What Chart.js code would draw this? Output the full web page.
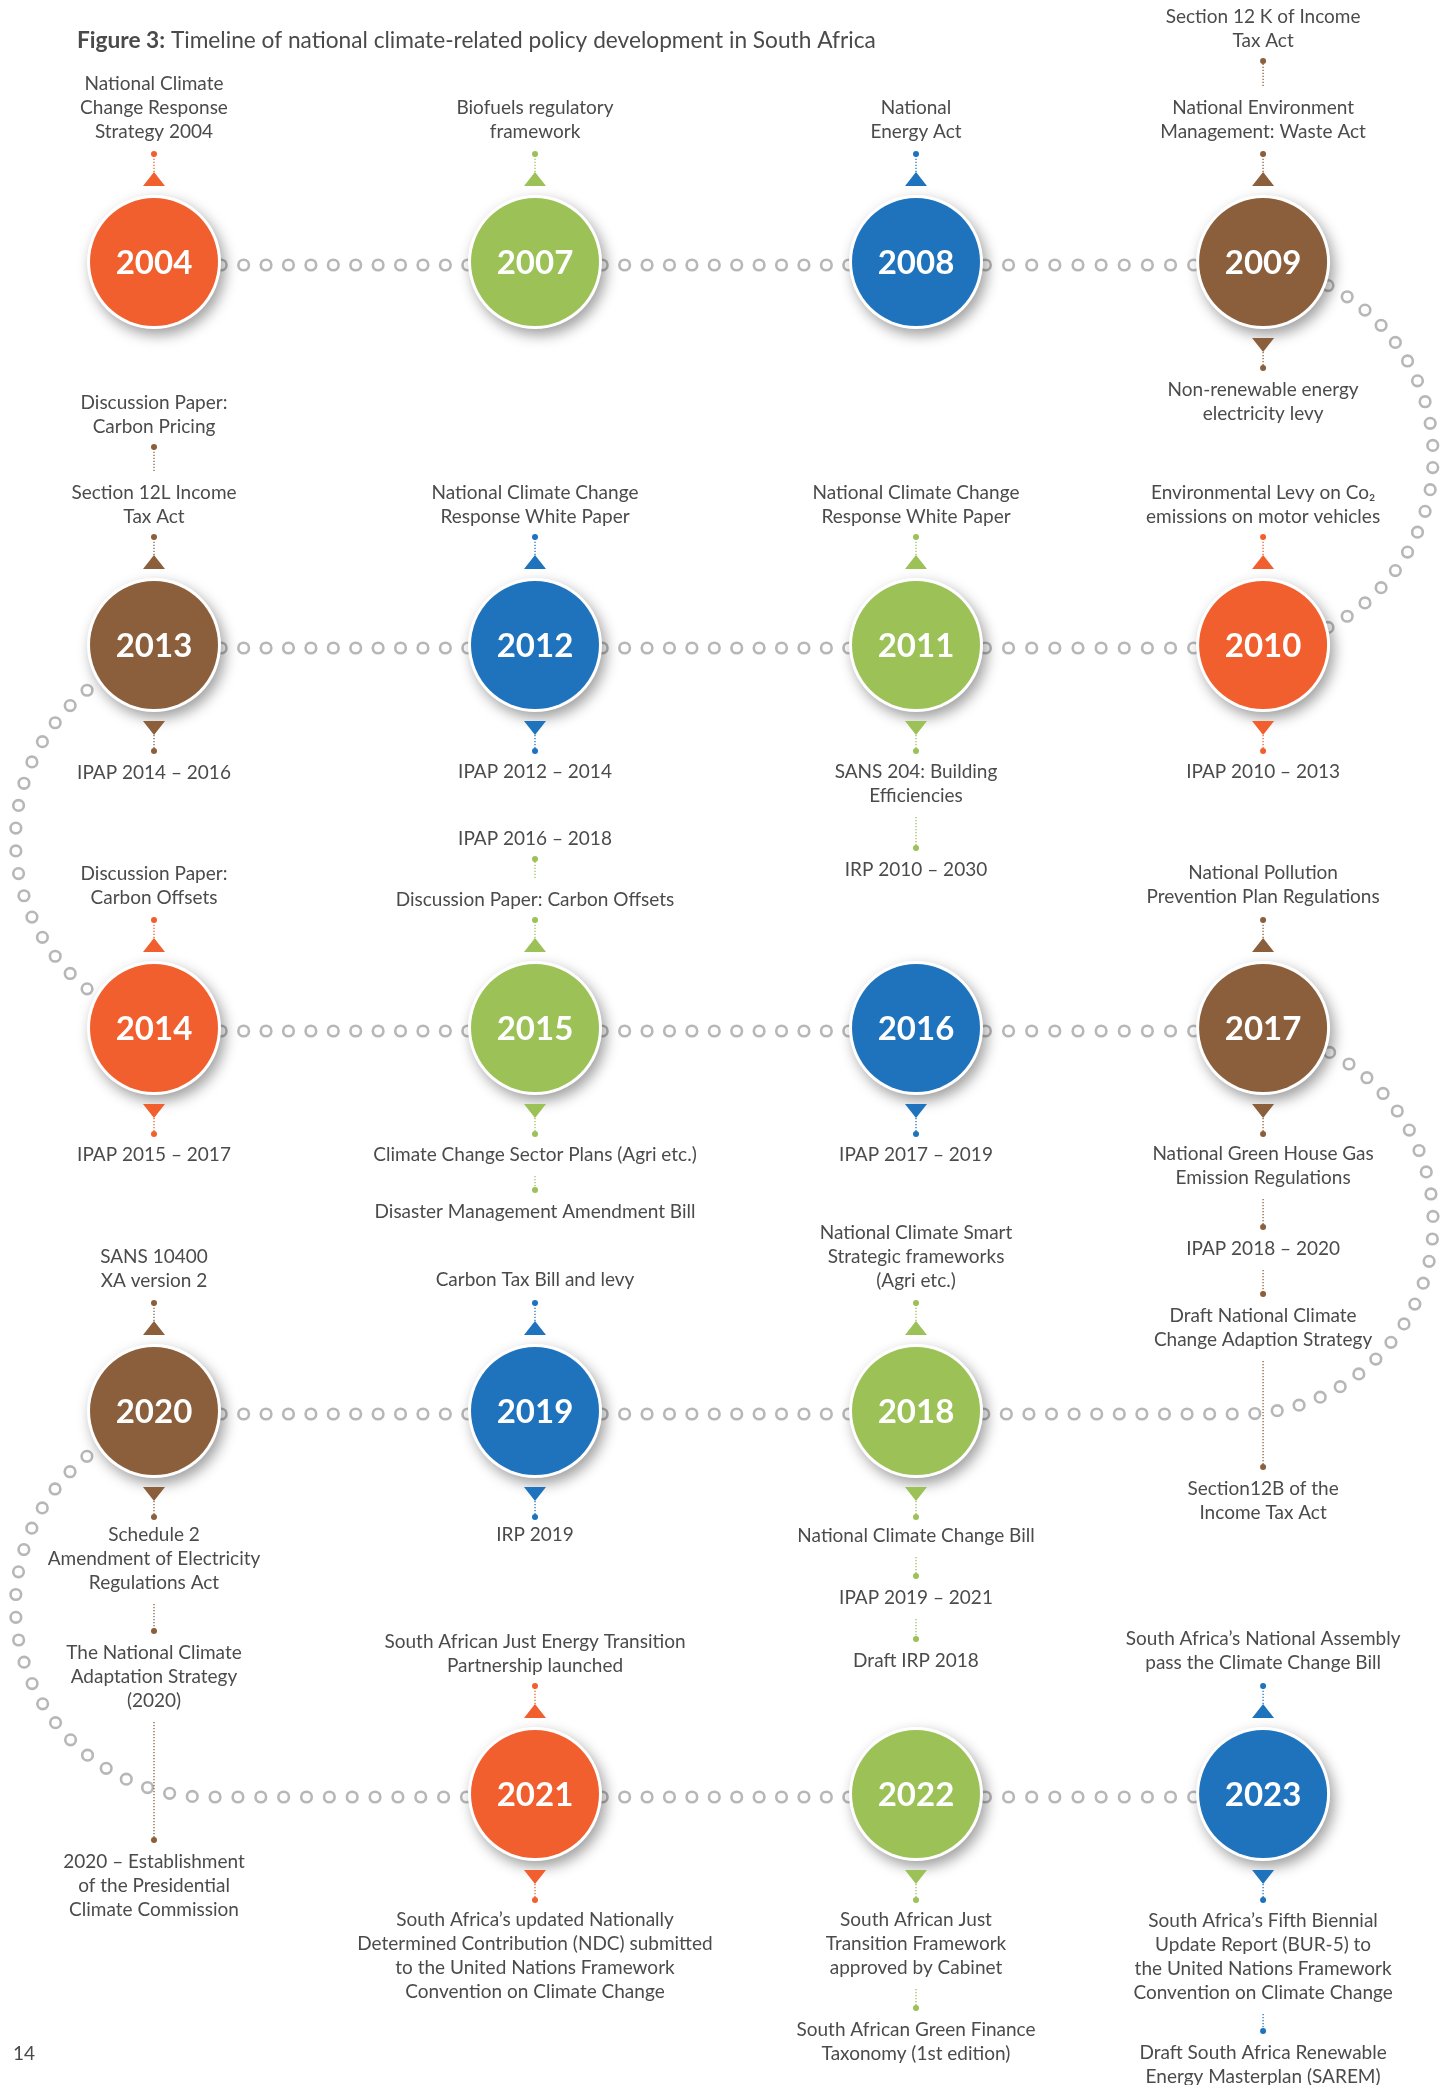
<!DOCTYPE html>
<html>
<head>
<meta charset="utf-8">
<script src="https://cdn.jsdelivr.net/npm/chart.js@4.4.1/dist/chart.umd.min.js"></script>
<style>
  html, body { margin: 0; padding: 0; background: #ffffff; }
  #wrap { position: relative; width: 1452px; height: 2085px; }
  canvas { display: block; }
</style>
</head>
<body>
<div id="wrap"><canvas id="c" width="1452" height="2085"></canvas></div>
<script>
// ================= DATA =================
const titleBold = "Figure 3:";
const titleText = " Timeline of national climate-related policy development in South Africa";
const pageNumber = "14";

const years = [2004, 2007, 2008, 2009, 2010, 2011, 2012, 2013, 2014, 2015, 2016, 2017, 2018, 2019, 2020, 2021, 2022, 2023];

// events shown above each year's circle (nearest first), each event = list of text lines
const aboveLabels = [
  [["National Climate", "Change Response", "Strategy 2004"]],
  [["Biofuels regulatory", "framework"]],
  [["National", "Energy Act"]],
  [["National Environment", "Management: Waste Act"], ["Section 12 K of Income", "Tax Act"]],
  [["Environmental Levy on Co₂", "emissions on motor vehicles"]],
  [["National Climate Change", "Response White Paper"]],
  [["National Climate Change", "Response White Paper"]],
  [["Section 12L Income", "Tax Act"], ["Discussion Paper:", "Carbon Pricing"]],
  [["Discussion Paper:", "Carbon Offsets"]],
  [["Discussion Paper: Carbon Offsets"], ["IPAP 2016 – 2018"]],
  [],
  [["National Pollution", "Prevention Plan Regulations"]],
  [["National Climate Smart", "Strategic frameworks", "(Agri etc.)"]],
  [["Carbon Tax Bill and levy"]],
  [["SANS 10400", "XA version 2"]],
  [["South African Just Energy Transition", "Partnership launched"]],
  [],
  [["South Africa’s National Assembly", "pass the Climate Change Bill"]]
];

// events shown below each year's circle (nearest first)
const belowLabels = [
  [],
  [],
  [],
  [["Non-renewable energy", "electricity levy"]],
  [["IPAP 2010 – 2013"]],
  [["SANS 204: Building", "Efficiencies"], ["IRP 2010 – 2030"]],
  [["IPAP 2012 – 2014"]],
  [["IPAP 2014 – 2016"]],
  [["IPAP 2015 – 2017"]],
  [["Climate Change Sector Plans (Agri etc.)"], ["Disaster Management Amendment Bill"]],
  [["IPAP 2017 – 2019"]],
  [["National Green House Gas", "Emission Regulations"], ["IPAP 2018 – 2020"], ["Draft National Climate", "Change Adaption Strategy"], ["Section12B of the", "Income Tax Act"]],
  [["National Climate Change Bill"], ["IPAP 2019 – 2021"], ["Draft IRP 2018"]],
  [["IRP 2019"]],
  [["Schedule 2", "Amendment of Electricity", "Regulations Act"], ["The National Climate", "Adaptation Strategy", "(2020)"], ["2020 – Establishment", "of the Presidential", "Climate Commission"]],
  [["South Africa’s updated Nationally", "Determined Contribution (NDC) submitted", "to the United Nations Framework", "Convention on Climate Change"]],
  [["South African Just", "Transition Framework", "approved by Cabinet"], ["South African Green Finance", "Taxonomy (1st edition)"]],
  [["South Africa’s Fifth Biennial", "Update Report (BUR-5) to", "the United Nations Framework", "Convention on Climate Change"], ["Draft South Africa Renewable", "Energy Masterplan (SAREM)"]]
];

// ================= LAYOUT =================
// grid cell of each year (snake layout)
const gridCol = [0, 1, 2, 3, 3, 2, 1, 0, 0, 1, 2, 3, 2, 1, 0, 1, 2, 3];
const gridRow = [0, 0, 0, 0, 1, 1, 1, 1, 2, 2, 2, 2, 3, 3, 3, 4, 4, 4];
const COL_POS = [0, 1, 2, 2.911];
const X_MIN = -0.4042, X_MAX = X_MIN + 1452 / 381;
const Y_MIN = -0.6841, Y_MAX = Y_MIN + 2085 / 383;
// pixel offset (from circle centre) of the text line nearest to the circle for each event
const aboveOffsets = [[-130], [-130], [-130], [-130, -221], [-128], [-128], [-128], [-128, -218], [-130], [-128, -189], [], [-131], [-130], [-131], [-130], [-128], [], [-131]];
const belowOffsets = [[], [], [], [128], [127], [127, 225], [127], [128], [127], [127, 184], [127], [126, 221, 288, 461], [125, 187, 250], [124], [124, 242, 451], [126], [126, 236], [127, 259]];
const LINE_H = 24;

// ================= STYLE =================
const palette = { orange: '#f15f2e', green: '#9bc157', blue: '#1f73bd', brown: '#8b5f3c' };
const eventColor = ['orange', 'green', 'blue', 'brown', 'orange', 'green', 'blue', 'brown', 'orange', 'green', 'blue', 'brown', 'green', 'blue', 'brown', 'orange', 'green', 'blue'].map(k => palette[k]);
const TEXT_COLOR = '#4b4b4b';
const TEXT_FONT = '19px Lato, "Open Sans", sans-serif';
const RING_COLOR = '#b7b7b7';

// ================= PLUGIN =================
function dottedLine(ctx, x, y1, y2, color) {
  ctx.save();
  ctx.strokeStyle = color;
  ctx.lineWidth = 1.3;
  ctx.setLineDash([1.3, 1.7]);
  ctx.beginPath();
  ctx.moveTo(x, y1);
  ctx.lineTo(x, y2);
  ctx.stroke();
  ctx.restore();
}
function dot(ctx, x, y, color) {
  ctx.fillStyle = color;
  ctx.beginPath();
  ctx.arc(x, y, 3, 0, Math.PI * 2);
  ctx.fill();
}
function triangle(ctx, x, baseY, apexY, color) {
  ctx.fillStyle = color;
  ctx.beginPath();
  ctx.moveTo(x - 11, baseY);
  ctx.lineTo(x + 11, baseY);
  ctx.lineTo(x, apexY);
  ctx.closePath();
  ctx.fill();
}

const timelinePlugin = {
  id: 'timeline',
  beforeDatasetsDraw(chart) {
    const ctx = chart.ctx;
    const xs = chart.scales.x, ys = chart.scales.y;
    const LINE_DY = 3;
    const P = (c, r) => ({ x: xs.getPixelForValue(COL_POS[c]), y: ys.getPixelForValue(r) + LINE_DY });
    const R = Math.abs(ys.getPixelForValue(1) - ys.getPixelForValue(0)) / 2;
    const segments = [];
    for (let i = 0; i < years.length - 1; i++) {
      const a = P(gridCol[i], gridRow[i]);
      const b = P(gridCol[i + 1], gridRow[i + 1]);
      const pts = [];
      if (gridRow[i] === gridRow[i + 1]) {
        pts.push(a, b);
      } else {
        const left = gridCol[i] === 0;
        const acx = a.x + (left ? 53 : -21.5);
        const acy = a.y + R;
        pts.push(a, { x: acx, y: a.y });
        const N = 120;
        for (let k = 1; k <= N; k++) {
          const t = k / N;
          const ang = left ? (-Math.PI / 2 - Math.PI * t) : (-Math.PI / 2 + Math.PI * t);
          pts.push({ x: acx + R * Math.cos(ang), y: acy + R * Math.sin(ang) });
        }
        pts.push(b);
      }
      segments.push(pts);
    }
    ctx.save();
    ctx.strokeStyle = RING_COLOR;
    ctx.lineWidth = 2.6;
    segments.forEach(pts => {
      const cum = [0];
      for (let k = 1; k < pts.length; k++) cum.push(cum[k - 1] + Math.hypot(pts[k].x - pts[k - 1].x, pts[k].y - pts[k - 1].y));
      const L = cum[cum.length - 1];
      const n = Math.max(1, Math.round(L / 22.6));
      const step = L / n;
      let seg = 1;
      for (let m = 0; m <= n; m++) {
        const d = m * step;
        while (seg < pts.length - 1 && cum[seg] < d) seg++;
        const s0 = cum[seg - 1], s1 = cum[seg];
        const t = s1 > s0 ? (d - s0) / (s1 - s0) : 0;
        const x = pts[seg - 1].x + (pts[seg].x - pts[seg - 1].x) * t;
        const y = pts[seg - 1].y + (pts[seg].y - pts[seg - 1].y) * t;
        ctx.beginPath();
        ctx.arc(x, y, 5.3, 0, Math.PI * 2);
        ctx.stroke();
      }
    });
    ctx.restore();
  },
  beforeDatasetDraw(chart, args) {
    if (args.index === 0) {
      const ctx = chart.ctx;
      ctx.shadowColor = 'rgba(0,0,0,0.38)';
      ctx.shadowBlur = 14;
      ctx.shadowOffsetX = 4;
      ctx.shadowOffsetY = 6;
    }
  },
  afterDatasetDraw(chart, args) {
    const ctx = chart.ctx;
    ctx.shadowColor = 'rgba(0,0,0,0)';
    ctx.shadowBlur = 0;
    ctx.shadowOffsetX = 0;
    ctx.shadowOffsetY = 0;
  },
  afterDatasetsDraw(chart) {
    const ctx = chart.ctx;
    const xs = chart.scales.x, ys = chart.scales.y;
    ctx.save();
    // title
    ctx.textBaseline = 'middle';
    ctx.textAlign = 'left';
    ctx.fillStyle = '#4a4a4a';
    ctx.font = 'bold 22.7px Lato, "Open Sans", sans-serif';
    ctx.fillText(titleBold, 77, 41);
    const wb = ctx.measureText(titleBold).width;
    ctx.font = '22.7px Lato, "Open Sans", sans-serif';
    ctx.fillText(titleText, 77 + wb, 41);
    // page number
    ctx.font = '19px Lato, "Open Sans", sans-serif';
    ctx.fillText(pageNumber, 13, 2054);

    years.forEach((yr, i) => {
      const cx = xs.getPixelForValue(COL_POS[gridCol[i]]);
      const cy = ys.getPixelForValue(gridRow[i]);
      const col = eventColor[i];
      // year text
      ctx.textAlign = 'center';
      ctx.fillStyle = '#ffffff';
      ctx.font = 'bold 33px Lato, "Open Sans", sans-serif';
      ctx.fillText(String(yr), cx, cy + 1);
      ctx.font = TEXT_FONT;
      // above chain
      const up = aboveLabels[i];
      let prevFar = null;
      up.forEach((lines, k) => {
        const near = cy + aboveOffsets[i][k];
        if (k === 0) {
          triangle(ctx, cx, cy - 76, cy - 90, col);
          dottedLine(ctx, cx, cy - 90, cy - 108, col);
          dot(ctx, cx, cy - 108, col);
        } else {
          dottedLine(ctx, cx, prevFar - 22, near + 20, col);
          dot(ctx, cx, near + 20, col);
        }
        ctx.fillStyle = TEXT_COLOR;
        const n = lines.length;
        lines.forEach((t, j) => ctx.fillText(t, cx, near - (n - 1 - j) * LINE_H));
        prevFar = near - (n - 1) * LINE_H;
      });
      // below chain
      const down = belowLabels[i];
      prevFar = null;
      down.forEach((lines, k) => {
        const near = cy + belowOffsets[i][k];
        if (k === 0) {
          triangle(ctx, cx, cy + 76, cy + 90, col);
          dottedLine(ctx, cx, cy + 90, cy + 106, col);
          dot(ctx, cx, cy + 106, col);
        } else {
          dottedLine(ctx, cx, prevFar + 21, near - 22, col);
          dot(ctx, cx, near - 22, col);
        }
        ctx.fillStyle = TEXT_COLOR;
        lines.forEach((t, j) => ctx.fillText(t, cx, near + j * LINE_H));
        prevFar = near + (lines.length - 1) * LINE_H;
      });
    });
    ctx.restore();
  }
};

// ================= CHART =================
const points = years.map((yr, i) => ({ x: COL_POS[gridCol[i]], y: gridRow[i] }));

new Chart(document.getElementById('c'), {
  type: 'scatter',
  data: {
    datasets: [
      { label: 'ring', data: points, pointRadius: 67, pointHoverRadius: 67, pointBackgroundColor: '#ffffff', pointBorderWidth: 0, order: 2, clip: false },
      { label: 'years', data: points, pointRadius: 64, pointHoverRadius: 64, pointBackgroundColor: eventColor, pointBorderWidth: 0, order: 1, clip: false }
    ]
  },
  options: {
    responsive: false,
    devicePixelRatio: 1,
    animation: false,
    events: [],
    layout: { padding: 0, autoPadding: false },
    scales: {
      x: { type: 'linear', min: X_MIN, max: X_MAX, display: false },
      y: { type: 'linear', min: Y_MIN, max: Y_MAX, reverse: true, display: false }
    },
    plugins: { legend: { display: false }, tooltip: { enabled: false }, title: { display: false } }
  },
  plugins: [timelinePlugin]
});
</script>
</body>
</html>
